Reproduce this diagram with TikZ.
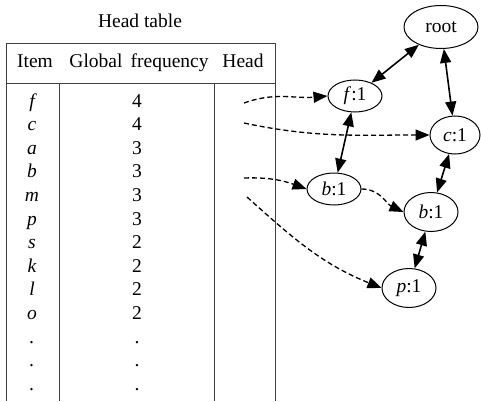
\documentclass[tikz,border=0pt]{standalone}
\usepackage{fontspec}
\setmainfont{Liberation Serif}
\usetikzlibrary{shapes.geometric,arrows.meta}
\tikzset{
  tabline/.style={draw=black!75, line width=0.9pt},
  nd/.style={ellipse, draw, line width=1pt, inner sep=0pt, font=\fontsize{19.5}{22}\selectfont},
  tree/.style={line width=1.6pt, {Triangle[length=14pt,width=11pt]}-{Triangle[length=14pt,width=11pt]}},
  link/.style={line width=1.3pt, dash pattern=on 5pt off 3pt, -{Triangle[length=14pt,width=11pt]}},
  txt/.style={anchor=base, inner sep=0pt, font=\fontsize{19.5}{22}\selectfont}
}
\begin{document}
\begin{tikzpicture}[x=1pt,y=-1pt]
\useasboundingbox (0,0) rectangle (481,401);
% table
\node[txt] (title) at (140,28) {Head table};
\draw[tabline] (6,401) -- (6,43) -- (275,43) -- (275,401);
\draw[tabline] (6,83) -- (275,83);
\draw[tabline] (59,83) -- (59,401);
\draw[tabline] (214,83) -- (214,401);
\node[txt] (hitem) at (35,68) {Item};
\node[txt] (hglob) at (139,68) {Global\, frequency};
\node[txt] (hhead) at (243,68) {Head};
\foreach \it/\fr [count=\k from 0] in {f/4,c/4,a/3,b/3,m/3,p/3,s/2,k/2,l/2,o/2,./.,./.,./.}{
  \node[txt] (it\k) at (32,107+23.6*\k) {\itshape\it};
  \node[txt] (fr\k) at (137,107+23.6*\k) {\fr};
}
% tree nodes
\node[nd, minimum width=74pt, minimum height=43pt] (root) at (441,27) {root};
\node[nd, minimum width=54pt, minimum height=32pt] (f1) at (355,96) {\textit{f}:1};
\node[nd, minimum width=50pt, minimum height=38pt] (c1) at (455,135) {\textit{c}:1};
\node[nd, minimum width=54pt, minimum height=32pt] (b1) at (334,189) {\textit{b}:1};
\node[nd, minimum width=54pt, minimum height=39pt] (b2) at (431,212) {\textit{b}:1};
\node[nd, minimum width=54pt, minimum height=39pt] (p1) at (409,288) {\textit{p}:1};
% tree edges
\draw[tree] (root) -- (f1);
\draw[tree] (root) -- (c1);
\draw[tree] (f1) -- (b1);
\draw[tree] (c1) -- (b2);
\draw[tree] (b2) -- (p1);
\draw[link] (b1.east) to[out=0,in=155] (b2.west);
% head links
\coordinate (h1) at (244,103);
\coordinate (h2) at (244,123);
\coordinate (h3) at (244,178);
\coordinate (h4) at (247,197);
\draw[link] (h1) to[out=20,in=185] (f1.west);
\draw[link] (h2) to[out=-12,in=180] (c1.west);
\draw[link] (h3) to[out=2,in=160] (b1.west);
\draw[link] (h4) to[out=-42,in=158] (p1.west);
\end{tikzpicture}
\end{document}
